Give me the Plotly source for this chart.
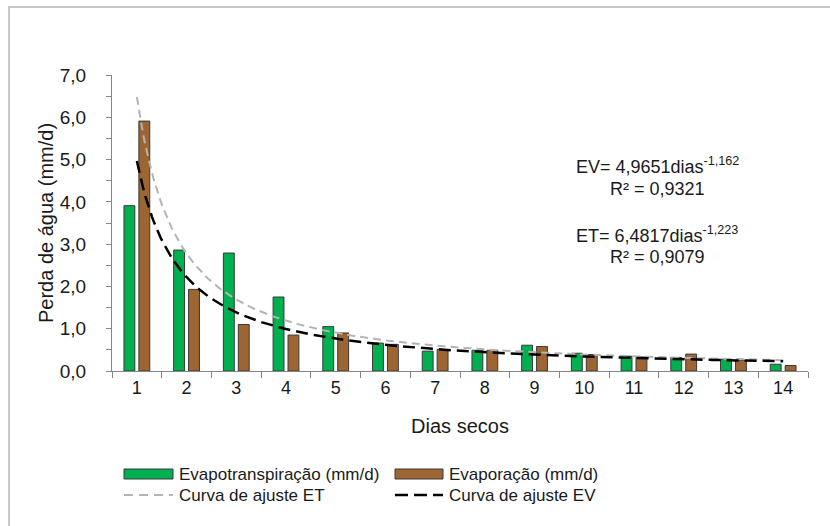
import numpy as np
import plotly.graph_objects as go

dias = list(range(1, 15))
evapotranspiracao = [3.91, 2.86, 2.79, 1.75, 1.05, 0.66, 0.47, 0.49, 0.61, 0.42, 0.35, 0.32, 0.28, 0.16]
evaporacao = [5.91, 1.93, 1.10, 0.85, 0.90, 0.63, 0.51, 0.49, 0.58, 0.39, 0.33, 0.40, 0.25, 0.13]

# fitted power curves (coefficients shown on chart)
ET_A, ET_B = 6.4817, -1.223
EV_A, EV_B = 4.9651, -1.162

y_ticks = [0, 1, 2, 3, 4, 5, 6, 7]

GREEN = "#00B050"
BROWN = "#9C6532"
EDGE = "#3a3a3a"
AX = "#868686"
FONT = "Liberation Sans, Arial, sans-serif"
TXT = "#1a1a1a"

xc = np.linspace(1, 14, 300)
et_fit = ET_A * xc ** ET_B
ev_fit = EV_A * xc ** EV_B

fig = go.Figure()
fig.add_trace(go.Bar(x=dias, y=evapotranspiracao, name="Evapotranspiração (mm/d)",
                     marker=dict(color=GREEN, line=dict(color=EDGE, width=1))))
fig.add_trace(go.Bar(x=dias, y=evaporacao, name="Evaporação (mm/d)",
                     marker=dict(color=BROWN, line=dict(color=EDGE, width=1))))
fig.add_trace(go.Scatter(x=xc, y=et_fit, mode="lines", name="Curva de ajuste ET",
                         line=dict(color="#B4B4B4", width=2, dash="8px,5px")))
fig.add_trace(go.Scatter(x=xc, y=ev_fit, mode="lines", name="Curva de ajuste EV",
                         line=dict(color="#000000", width=2.5, dash="12px,6px")))

# plot area in pixels
L, R, T, B = 112, 808, 75, 371
fig.update_layout(
    width=830, height=526,
    margin=dict(l=L, r=830 - R, t=T, b=526 - B),
    paper_bgcolor="white", plot_bgcolor="white",
    separators=", ",
    showlegend=False,
    barmode="group", bargap=0.40, bargroupgap=0.27,
    font=dict(family=FONT, size=16, color=TXT),
)
fig.update_xaxes(
    range=[0.5, 14.5], tickvals=dias, ticktext=[str(d) for d in dias],
    ticks="", showgrid=False, zeroline=False,
    showline=True, linecolor=AX, linewidth=1,
    tickfont=dict(size=18),
    minor=dict(tickvals=[d + 0.5 for d in [0] + dias], ticks="outside", ticklen=6,
               tickcolor=AX, showgrid=False),
    title=dict(text="Dias secos", font=dict(size=20), standoff=22),
)
fig.update_yaxes(
    range=[0, 7], tickvals=y_ticks, tickformat=".1f",
    ticks="outside", ticklen=5, tickcolor=AX,
    ticklabelstandoff=16,
    showgrid=False, zeroline=False,
    showline=True, linecolor=AX, linewidth=1,
    tickfont=dict(size=19),
    minor=dict(dtick=0.5, ticks="outside", ticklen=5, tickcolor=AX, showgrid=False),
    title=dict(text="Perda de água (mm/d)", font=dict(size=20), standoff=0),
)

# equation annotations (pixel-row positions converted via plot area)
def px(x):
    return (x - L) / (R - L)
def py(y):
    return (B - y) / (B - T)

ann = [
    ("EV= 4,9651dias<sup>-1,162</sup>", 178, "bottom"),
    ("R² = 0,9321", 178, "top"),
    ("ET= 6,4817dias<sup>-1,223</sup>", 247, "bottom"),
    ("R² = 0,9079", 246, "top"),
]
for txt, yy, anch in ann:
    fig.add_annotation(x=px(657), y=py(yy), xref="paper", yref="paper", text=txt, showarrow=False,
                       font=dict(size=18, color=TXT), xanchor="center", yanchor=anch,
                       borderpad=0)

# custom legend (xref/yref 'paper' = plot area fractions)
legend_items = [
    ("rect", GREEN, 124, 173, 474, "Evapotranspiração (mm/d)", 177),
    ("rect", BROWN, 395, 443, 474, "Evaporação (mm/d)", 447),
    ("line_gray", "#B4B4B4", 124, 173, 495, "Curva de ajuste ET", 177),
    ("line_black", "#000000", 395, 443, 495, "Curva de ajuste EV", 447),
]
for kind, col, x0, x1, yc, label, tx in legend_items:
    if kind == "rect":
        fig.add_shape(type="rect", xref="paper", yref="paper",
                      x0=px(x0), x1=px(x1), y0=py(yc - 5), y1=py(yc + 5),
                      fillcolor=col, line=dict(color=EDGE, width=1))
    else:
        dash = "9px,6px" if kind == "line_gray" else "13px,6px"
        w = 2 if kind == "line_gray" else 2.5
        fig.add_shape(type="line", xref="paper", yref="paper",
                      x0=px(x0), x1=px(x1), y0=py(yc), y1=py(yc),
                      line=dict(color=col, width=w, dash=dash))
    fig.add_annotation(x=px(tx), y=py(yc), xref="paper", yref="paper", text=label,
                       showarrow=False, xanchor="left", yanchor="middle",
                       font=dict(size=17, color=TXT))

# chart border (top and left visible)
fig.add_shape(type="line", xref="paper", yref="paper", x0=px(8), x1=px(832), y0=py(7), y1=py(7),
              line=dict(color="#C8C8C8", width=2))
fig.add_shape(type="line", xref="paper", yref="paper", x0=px(9), x1=px(9), y0=py(6), y1=py(530),
              line=dict(color="#C8C8C8", width=2))

fig.write_html("out.html")
